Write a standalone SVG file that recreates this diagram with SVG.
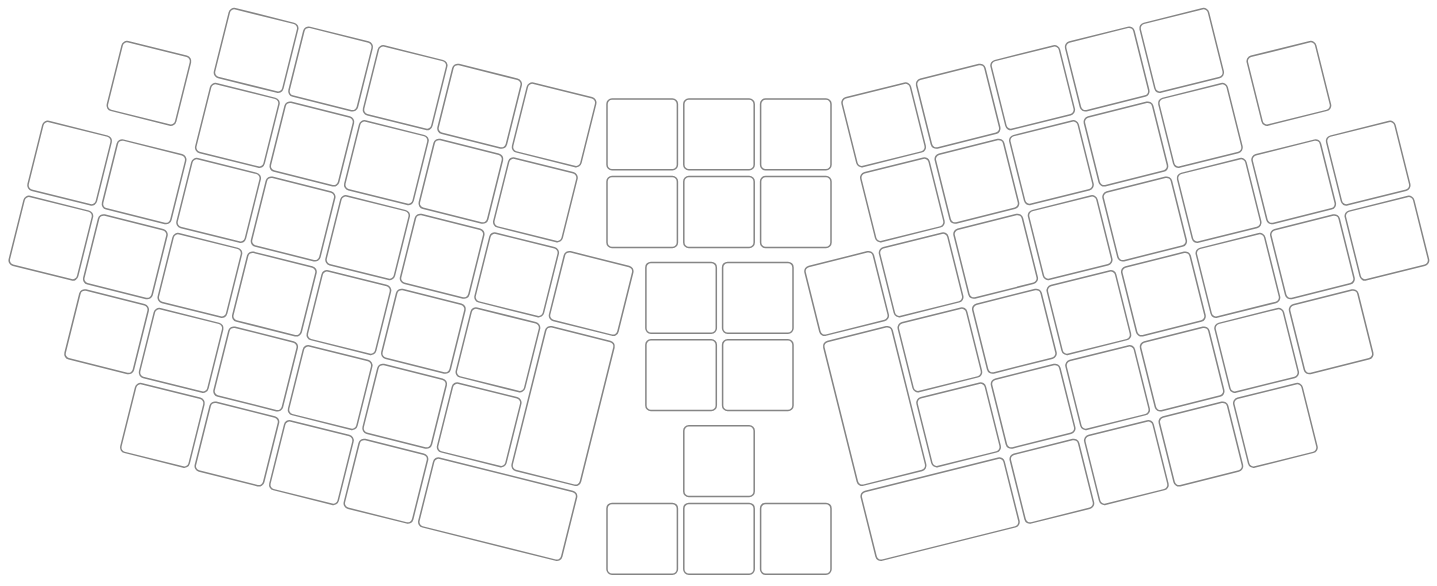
<svg xmlns="http://www.w3.org/2000/svg" width="1437" height="586" viewBox="0 0 1437 586">
<style>
rect{fill:#fff;stroke:#858585;stroke-width:1.5}
.k{width:70.4px;height:70.8px}
</style>
<rect x="0" y="0" width="1437" height="586" style="stroke:none;fill:#fff"/>
<g id="connectors"/>
<g id="left-half" transform="translate(256.1,50.4) rotate(14.03)">
  <g id="L-iso" transform="translate(-96,57.975)"><rect x="-35.2" y="-35.4" width="70.4" height="70.8" rx="5"/></g>
  <g id="L-r0c0" transform="translate(0,0)"><rect x="-35.2" y="-35.4" width="70.4" height="70.8" rx="5"/></g>
  <g id="L-r0c1" transform="translate(76.8,0)"><rect x="-35.2" y="-35.4" width="70.4" height="70.8" rx="5"/></g>
  <g id="L-r0c2" transform="translate(153.6,0)"><rect x="-35.2" y="-35.4" width="70.4" height="70.8" rx="5"/></g>
  <g id="L-r0c3" transform="translate(230.4,0)"><rect x="-35.2" y="-35.4" width="70.4" height="70.8" rx="5"/></g>
  <g id="L-r0c4" transform="translate(307.2,0)"><rect x="-35.2" y="-35.4" width="70.4" height="70.8" rx="5"/></g>
  <g id="L-r1c0" transform="translate(0,77.3)"><rect x="-35.2" y="-35.4" width="70.4" height="70.8" rx="5"/></g>
  <g id="L-r1c1" transform="translate(76.8,77.3)"><rect x="-35.2" y="-35.4" width="70.4" height="70.8" rx="5"/></g>
  <g id="L-r1c2" transform="translate(153.6,77.3)"><rect x="-35.2" y="-35.4" width="70.4" height="70.8" rx="5"/></g>
  <g id="L-r1c3" transform="translate(230.4,77.3)"><rect x="-35.2" y="-35.4" width="70.4" height="70.8" rx="5"/></g>
  <g id="L-r1c4" transform="translate(307.2,77.3)"><rect x="-35.2" y="-35.4" width="70.4" height="70.8" rx="5"/></g>
  <g id="L-r2c-2" transform="translate(-153.6,154.6)"><rect x="-35.2" y="-35.4" width="70.4" height="70.8" rx="5"/></g>
  <g id="L-r2c-1" transform="translate(-76.8,154.6)"><rect x="-35.2" y="-35.4" width="70.4" height="70.8" rx="5"/></g>
  <g id="L-r2c0" transform="translate(0,154.6)"><rect x="-35.2" y="-35.4" width="70.4" height="70.8" rx="5"/></g>
  <g id="L-r2c1" transform="translate(76.8,154.6)"><rect x="-35.2" y="-35.4" width="70.4" height="70.8" rx="5"/></g>
  <g id="L-r2c2" transform="translate(153.6,154.6)"><rect x="-35.2" y="-35.4" width="70.4" height="70.8" rx="5"/></g>
  <g id="L-r2c3" transform="translate(230.4,154.6)"><rect x="-35.2" y="-35.4" width="70.4" height="70.8" rx="5"/></g>
  <g id="L-r2c4" transform="translate(307.2,154.6)"><rect x="-35.2" y="-35.4" width="70.4" height="70.8" rx="5"/></g>
  <g id="L-r2c5" transform="translate(384,154.6)"><rect x="-35.2" y="-35.4" width="70.4" height="70.8" rx="5"/></g>
  <g id="L-r3c-2" transform="translate(-153.6,231.9)"><rect x="-35.2" y="-35.4" width="70.4" height="70.8" rx="5"/></g>
  <g id="L-r3c-1" transform="translate(-76.8,231.9)"><rect x="-35.2" y="-35.4" width="70.4" height="70.8" rx="5"/></g>
  <g id="L-r3c0" transform="translate(0,231.9)"><rect x="-35.2" y="-35.4" width="70.4" height="70.8" rx="5"/></g>
  <g id="L-r3c1" transform="translate(76.8,231.9)"><rect x="-35.2" y="-35.4" width="70.4" height="70.8" rx="5"/></g>
  <g id="L-r3c2" transform="translate(153.6,231.9)"><rect x="-35.2" y="-35.4" width="70.4" height="70.8" rx="5"/></g>
  <g id="L-r3c3" transform="translate(230.4,231.9)"><rect x="-35.2" y="-35.4" width="70.4" height="70.8" rx="5"/></g>
  <g id="L-r3c4" transform="translate(307.2,231.9)"><rect x="-35.2" y="-35.4" width="70.4" height="70.8" rx="5"/></g>
  <g id="L-tall" transform="translate(384,270.55)"><rect x="-35.2" y="-74.05" width="70.4" height="148.1" rx="5"/></g>
  <g id="L-r4c-1" transform="translate(-76.8,309.2)"><rect x="-35.2" y="-35.4" width="70.4" height="70.8" rx="5"/></g>
  <g id="L-r4c0" transform="translate(0,309.2)"><rect x="-35.2" y="-35.4" width="70.4" height="70.8" rx="5"/></g>
  <g id="L-r4c1" transform="translate(76.8,309.2)"><rect x="-35.2" y="-35.4" width="70.4" height="70.8" rx="5"/></g>
  <g id="L-r4c2" transform="translate(153.6,309.2)"><rect x="-35.2" y="-35.4" width="70.4" height="70.8" rx="5"/></g>
  <g id="L-r4c3" transform="translate(230.4,309.2)"><rect x="-35.2" y="-35.4" width="70.4" height="70.8" rx="5"/></g>
  <g id="L-r4c4" transform="translate(307.2,309.2)"><rect x="-35.2" y="-35.4" width="70.4" height="70.8" rx="5"/></g>
  <g id="L-r5c0" transform="translate(0,386.5)"><rect x="-35.2" y="-35.4" width="70.4" height="70.8" rx="5"/></g>
  <g id="L-r5c1" transform="translate(76.8,386.5)"><rect x="-35.2" y="-35.4" width="70.4" height="70.8" rx="5"/></g>
  <g id="L-r5c2" transform="translate(153.6,386.5)"><rect x="-35.2" y="-35.4" width="70.4" height="70.8" rx="5"/></g>
  <g id="L-r5c3" transform="translate(230.4,386.5)"><rect x="-35.2" y="-35.4" width="70.4" height="70.8" rx="5"/></g>
  <g id="L-wide" transform="translate(345.6,386.5)"><rect x="-73.6" y="-35.4" width="147.2" height="70.8" rx="5"/></g>
</g>
<g id="right-half" transform="translate(1437.8,0) scale(-1,1)">
 <g transform="translate(256.1,50.4) rotate(14.03)">
  <g id="R-iso" transform="translate(-96,57.975)"><rect x="-35.2" y="-35.4" width="70.4" height="70.8" rx="5"/></g>
  <g id="R-r0c0" transform="translate(0,0)"><rect x="-35.2" y="-35.4" width="70.4" height="70.8" rx="5"/></g>
  <g id="R-r0c1" transform="translate(76.8,0)"><rect x="-35.2" y="-35.4" width="70.4" height="70.8" rx="5"/></g>
  <g id="R-r0c2" transform="translate(153.6,0)"><rect x="-35.2" y="-35.4" width="70.4" height="70.8" rx="5"/></g>
  <g id="R-r0c3" transform="translate(230.4,0)"><rect x="-35.2" y="-35.4" width="70.4" height="70.8" rx="5"/></g>
  <g id="R-r0c4" transform="translate(307.2,0)"><rect x="-35.2" y="-35.4" width="70.4" height="70.8" rx="5"/></g>
  <g id="R-r1c0" transform="translate(0,77.3)"><rect x="-35.2" y="-35.4" width="70.4" height="70.8" rx="5"/></g>
  <g id="R-r1c1" transform="translate(76.8,77.3)"><rect x="-35.2" y="-35.4" width="70.4" height="70.8" rx="5"/></g>
  <g id="R-r1c2" transform="translate(153.6,77.3)"><rect x="-35.2" y="-35.4" width="70.4" height="70.8" rx="5"/></g>
  <g id="R-r1c3" transform="translate(230.4,77.3)"><rect x="-35.2" y="-35.4" width="70.4" height="70.8" rx="5"/></g>
  <g id="R-r1c4" transform="translate(307.2,77.3)"><rect x="-35.2" y="-35.4" width="70.4" height="70.8" rx="5"/></g>
  <g id="R-r2c-2" transform="translate(-153.6,154.6)"><rect x="-35.2" y="-35.4" width="70.4" height="70.8" rx="5"/></g>
  <g id="R-r2c-1" transform="translate(-76.8,154.6)"><rect x="-35.2" y="-35.4" width="70.4" height="70.8" rx="5"/></g>
  <g id="R-r2c0" transform="translate(0,154.6)"><rect x="-35.2" y="-35.4" width="70.4" height="70.8" rx="5"/></g>
  <g id="R-r2c1" transform="translate(76.8,154.6)"><rect x="-35.2" y="-35.4" width="70.4" height="70.8" rx="5"/></g>
  <g id="R-r2c2" transform="translate(153.6,154.6)"><rect x="-35.2" y="-35.4" width="70.4" height="70.8" rx="5"/></g>
  <g id="R-r2c3" transform="translate(230.4,154.6)"><rect x="-35.2" y="-35.4" width="70.4" height="70.8" rx="5"/></g>
  <g id="R-r2c4" transform="translate(307.2,154.6)"><rect x="-35.2" y="-35.4" width="70.4" height="70.8" rx="5"/></g>
  <g id="R-r2c5" transform="translate(384,154.6)"><rect x="-35.2" y="-35.4" width="70.4" height="70.8" rx="5"/></g>
  <g id="R-r3c-2" transform="translate(-153.6,231.9)"><rect x="-35.2" y="-35.4" width="70.4" height="70.8" rx="5"/></g>
  <g id="R-r3c-1" transform="translate(-76.8,231.9)"><rect x="-35.2" y="-35.4" width="70.4" height="70.8" rx="5"/></g>
  <g id="R-r3c0" transform="translate(0,231.9)"><rect x="-35.2" y="-35.4" width="70.4" height="70.8" rx="5"/></g>
  <g id="R-r3c1" transform="translate(76.8,231.9)"><rect x="-35.2" y="-35.4" width="70.4" height="70.8" rx="5"/></g>
  <g id="R-r3c2" transform="translate(153.6,231.9)"><rect x="-35.2" y="-35.4" width="70.4" height="70.8" rx="5"/></g>
  <g id="R-r3c3" transform="translate(230.4,231.9)"><rect x="-35.2" y="-35.4" width="70.4" height="70.8" rx="5"/></g>
  <g id="R-r3c4" transform="translate(307.2,231.9)"><rect x="-35.2" y="-35.4" width="70.4" height="70.8" rx="5"/></g>
  <g id="R-tall" transform="translate(384,270.55)"><rect x="-35.2" y="-74.05" width="70.4" height="148.1" rx="5"/></g>
  <g id="R-r4c-1" transform="translate(-76.8,309.2)"><rect x="-35.2" y="-35.4" width="70.4" height="70.8" rx="5"/></g>
  <g id="R-r4c0" transform="translate(0,309.2)"><rect x="-35.2" y="-35.4" width="70.4" height="70.8" rx="5"/></g>
  <g id="R-r4c1" transform="translate(76.8,309.2)"><rect x="-35.2" y="-35.4" width="70.4" height="70.8" rx="5"/></g>
  <g id="R-r4c2" transform="translate(153.6,309.2)"><rect x="-35.2" y="-35.4" width="70.4" height="70.8" rx="5"/></g>
  <g id="R-r4c3" transform="translate(230.4,309.2)"><rect x="-35.2" y="-35.4" width="70.4" height="70.8" rx="5"/></g>
  <g id="R-r4c4" transform="translate(307.2,309.2)"><rect x="-35.2" y="-35.4" width="70.4" height="70.8" rx="5"/></g>
  <g id="R-r5c0" transform="translate(0,386.5)"><rect x="-35.2" y="-35.4" width="70.4" height="70.8" rx="5"/></g>
  <g id="R-r5c1" transform="translate(76.8,386.5)"><rect x="-35.2" y="-35.4" width="70.4" height="70.8" rx="5"/></g>
  <g id="R-r5c2" transform="translate(153.6,386.5)"><rect x="-35.2" y="-35.4" width="70.4" height="70.8" rx="5"/></g>
  <g id="R-r5c3" transform="translate(230.4,386.5)"><rect x="-35.2" y="-35.4" width="70.4" height="70.8" rx="5"/></g>
  <g id="R-wide" transform="translate(345.6,386.5)"><rect x="-73.6" y="-35.4" width="147.2" height="70.8" rx="5"/></g>
 </g>
</g>
<g id="center-block">
  <g id="C-a1"><rect x="607.0" y="99.0" width="70.4" height="70.8" rx="5"/></g>
  <g id="C-a2"><rect x="683.8" y="99.0" width="70.4" height="70.8" rx="5"/></g>
  <g id="C-a3"><rect x="760.6" y="99.0" width="70.4" height="70.8" rx="5"/></g>
  <g id="C-b1"><rect x="607.0" y="176.6" width="70.4" height="70.8" rx="5"/></g>
  <g id="C-b2"><rect x="683.8" y="176.6" width="70.4" height="70.8" rx="5"/></g>
  <g id="C-b3"><rect x="760.6" y="176.6" width="70.4" height="70.8" rx="5"/></g>
  <g id="C-c1"><rect x="645.9" y="262.4" width="70.4" height="70.8" rx="5"/></g>
  <g id="C-c2"><rect x="722.6" y="262.4" width="70.4" height="70.8" rx="5"/></g>
  <g id="C-d1"><rect x="645.9" y="339.7" width="70.4" height="70.8" rx="5"/></g>
  <g id="C-d2"><rect x="722.6" y="339.7" width="70.4" height="70.8" rx="5"/></g>
  <g id="C-e1"><rect x="683.8" y="425.7" width="70.4" height="70.8" rx="5"/></g>
  <g id="C-f1"><rect x="607.0" y="503.4" width="70.4" height="70.8" rx="5"/></g>
  <g id="C-f2"><rect x="683.8" y="503.4" width="70.4" height="70.8" rx="5"/></g>
  <g id="C-f3"><rect x="760.6" y="503.4" width="70.4" height="70.8" rx="5"/></g>
</g>
</svg>
